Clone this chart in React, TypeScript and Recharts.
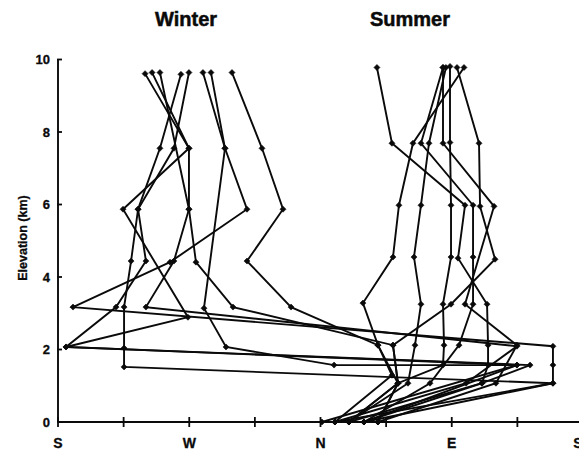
import React from 'react';
import { ScatterChart, Scatter, XAxis, YAxis } from 'recharts';

// Wind direction (degrees, S=0 -> W=90 -> N=180 -> E=270 -> S=360) vs elevation (km)
const winter1: [number, number][] = [[189.9, 0], [339.4, 1.07], [339.4, 1.57], [339.4, 2.09], [10.3, 3.17], [76.8, 4.41], [129.6, 5.87], [114.5, 7.55], [99.4, 9.64]];
const winter2: [number, number][] = [[199.5, 0], [290.7, 1.07], [323.7, 1.57], [5.5, 2.07], [89.1, 2.89], [44.6, 5.87], [89.8, 7.55], [59.7, 9.61]];
const winter3: [number, number][] = [[209.8, 0], [339.4, 1.07], [45.3, 1.52], [45.3, 2.04], [45.3, 3.17], [50.1, 4.44], [54.9, 5.87], [79.5, 7.55], [89.8, 9.64]];
const winter4: [number, number][] = [[181, 0], [314.7, 1.57], [5.5, 2.07], [39.8, 3.17], [60.3, 4.44], [54.9, 5.87], [69.9, 7.55], [84.3, 9.59]];
const winter5: [number, number][] = [[189.9, 0], [279.8, 1.07], [314.7, 2.09], [60.3, 3.17], [79.5, 4.44], [89.8, 5.87], [89.8, 7.55], [64.5, 9.64]];
const winter6: [number, number][] = [[219.4, 0], [233.1, 1.07], [229.7, 2.12], [120, 3.17], [94.6, 4.41], [89.8, 5.87], [69.9, 9.64]];
const winter7: [number, number][] = [[209.8, 0], [314.7, 1.57], [189.3, 1.57], [115.2, 2.07], [100.1, 3.14], [114.5, 7.55], [104.9, 9.64]];
const winter8: [number, number][] = [[199.5, 0], [233.1, 1.07], [219.4, 2.12], [159.8, 3.17], [129.6, 4.44], [154.3, 5.87], [139.9, 7.55], [119.3, 9.64]];

const summer1: [number, number][] = [[209.8, 0], [290.7, 1.07], [294.9, 1.57], [294.9, 2.12], [294.2, 3.25], [274.3, 4.52], [279.1, 5.98], [229, 7.69], [218.7, 9.78]];
const summer2: [number, number][] = [[189.9, 0], [229, 1.29], [219.4, 2.12], [209.1, 3.28], [229.7, 4.55], [233.8, 5.98], [243.4, 7.69], [278.4, 9.78]];
const summer3: [number, number][] = [[199.5, 0], [240, 1.07], [244.8, 2.12], [248.9, 3.25], [244.1, 4.55], [248.9, 5.98], [254.4, 7.69], [266, 9.78]];
const summer4: [number, number][] = [[209.8, 0], [255.1, 1.07], [275, 2.12], [284.6, 3.25], [284.6, 4.55], [284.6, 5.98], [248.9, 7.69], [264, 9.78]];
const summer5: [number, number][] = [[219.4, 0], [233.1, 1.07], [264, 1.57], [264.7, 2.12], [264, 3.25], [269.5, 4.55], [269.5, 5.98], [268.8, 7.71], [268.8, 9.81]];
const summer6: [number, number][] = [[199.5, 0], [233.1, 1.07], [229.7, 2.12], [269.5, 3.25], [299.7, 4.49], [289.4, 5.95], [288.7, 7.69], [273.6, 9.78]];
const summer7: [number, number][] = [[219.4, 0], [300.3, 1.07], [314.7, 2.12], [279.1, 3.25], [299, 5.95], [264, 7.69], [264, 9.78]];

const profiles = [winter1, winter2, winter3, winter4, winter5, winter6, winter7, winter8,
  summer1, summer2, summer3, summer4, summer5, summer6, summer7];

const dirTicks = [0, 45, 90, 135, 180, 225, 270, 315, 360];
const dirTickLabels = ['S', '', 'W', '', 'N', '', 'E', '', 'S'];
const elevTicks = [0, 2, 4, 6, 8, 10];

const FONT = '"Liberation Sans", Arial, Helvetica, sans-serif';

const Diamond = (props: any) => {
  const { cx, cy } = props;
  if (cx == null || cy == null) return null;
  const s = 3;
  return <polygon points={`${cx},${cy - s} ${cx + s},${cy} ${cx},${cy + s} ${cx - s},${cy}`} fill="#0a0a0a" stroke="#0a0a0a" strokeWidth={0.6} />;
};

const XTick = (props: any) => {
  const { x, y, payload } = props;
  const idx = dirTicks.indexOf(payload.value);
  const label = idx >= 0 ? dirTickLabels[idx] : '';
  const isLast = idx === dirTicks.length - 1;
  return (
    <g>
      <line x1={x} x2={x} y1={y - 5} y2={y + 5} stroke="#0a0a0a" strokeWidth={1.8} />
      {label && (
        <text x={isLast ? x - 5 : x} y={y + 26} textAnchor="middle" fontFamily={FONT} fontWeight="bold" fontSize={14} fill="#0a0a0a" stroke="#0a0a0a" strokeWidth={0.3}>{label}</text>
      )}
    </g>
  );
};

const YTick = (props: any) => {
  const { x, y, payload } = props;
  return (
    <g>
      <line x1={x - 1} x2={x + 4} y1={y} y2={y} stroke="#0a0a0a" strokeWidth={1.8} />
      <text x={x - 8} y={y + 4.5} textAnchor="end" fontFamily={FONT} fontWeight="bold" fontSize={13} fill="#0a0a0a" stroke="#0a0a0a" strokeWidth={0.3}>{payload.value}</text>
    </g>
  );
};

export default function App() {
  return (
    <div style={{ position: 'relative', width: 590, height: 442 }}>
      <ScatterChart width={590} height={442} margin={{ top: 51.5, right: 15, bottom: 0, left: 0 }} style={{ overflow: 'visible' }}>
        <XAxis
          type="number"
          dataKey="x"
          domain={[0, 360]}
          ticks={dirTicks}
          interval={0}
          tickSize={0}
          tickMargin={0}
          tickLine={false}
          tick={<XTick />}
          height={28}
          axisLine={{ stroke: '#0a0a0a', strokeWidth: 1.9 }}
        />
        <YAxis
          type="number"
          dataKey="y"
          domain={[0, 10]}
          ticks={elevTicks}
          interval={0}
          tickSize={0}
          tickMargin={0}
          tickLine={false}
          tick={<YTick />}
          width={50}
          axisLine={{ stroke: '#0a0a0a', strokeWidth: 1.9 }}
        />
        {profiles.map((p, i) => (
          <Scatter
            key={i}
            data={p.map(([x, y]) => ({ x, y }))}
            line={{ stroke: '#0a0a0a', strokeWidth: 1.9 }}
            lineJointType="linear"
            shape={<Diamond />}
            fill="#0a0a0a"
            isAnimationActive={false}
          />
        ))}
      </ScatterChart>
      <svg width={590} height={442} style={{ position: 'absolute', left: 0, top: 0, pointerEvents: 'none' }}>
        <text x={147} y={18} fontFamily={FONT} fontWeight="bold" fontSize={20} fill="#0a0a0a" stroke="#0a0a0a" strokeWidth={0.5}>Winter</text>
        <text x={362} y={18} fontFamily={FONT} fontWeight="bold" fontSize={20} fill="#0a0a0a" stroke="#0a0a0a" strokeWidth={0.5}>Summer</text>
        <text x={19} y={230} transform="rotate(-90 19 230)" textAnchor="middle" fontFamily={FONT} fontWeight="bold" fontSize={12.5} fill="#0a0a0a" stroke="#0a0a0a" strokeWidth={0.3}>Elevation (km)</text>
      </svg>
    </div>
  );
}
